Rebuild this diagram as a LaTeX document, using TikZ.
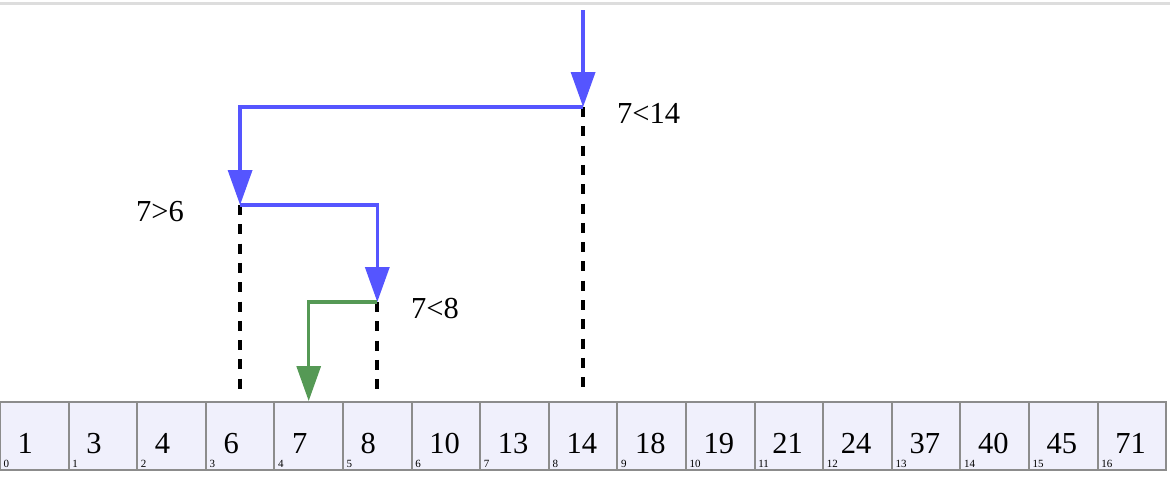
\documentclass[tikz,border=0pt]{standalone}
\usepackage{fontspec}
\setmainfont{Liberation Serif}
\usetikzlibrary{arrows.meta,calc}
\definecolor{stepblue}{RGB}{85,85,255}
\definecolor{stepgreen}{RGB}{85,153,85}
\definecolor{cellfill}{RGB}{240,240,252}
\definecolor{cellline}{RGB}{140,140,140}
\definecolor{rulegray}{RGB}{221,221,221}
\tikzset{
  cell/.style={draw=cellline, fill=cellfill, line width=2pt, minimum width=68.6pt, minimum height=68pt, inner sep=0pt},
  val/.style={anchor=base west, inner sep=0pt, font=\fontsize{30.5}{33}\selectfont},
  idx/.style={anchor=base west, inner sep=0pt, font=\fontsize{11}{13}\selectfont},
  cmp/.style={anchor=base west, inner sep=0pt, font=\fontsize{30.5}{33}\selectfont},
  bluestep/.style={draw=stepblue, line width=3.5pt, -{Triangle[length=35pt,width=24pt]}},
  greenstep/.style={draw=stepgreen, line width=3.2pt, -{Triangle[length=35pt,width=24pt]}},
  guide/.style={draw=black, line width=4pt, dash pattern=on 10pt off 9.3pt}
}
\begin{document}
\begin{tikzpicture}[x=1pt,y=-1pt]
\useasboundingbox (0,0) rectangle (1170,477);
\draw[rulegray, line width=3pt] (0,3.5) -- (1170,3.5);
% the sorted array
\foreach \v [count=\i from 0] in {1,3,4,6,7,8,10,13,14,18,19,21,24,37,40,45,71}{
  \node[cell] (c\i) at ({68.6*\i+34.3},436) {};
  \node[val] at ($(c\i.south west)+(18.5,-18)$) {\v};
  \node[idx] at ($(c\i.south west)+(4.5,-4)$) {\i};
}
% turning points of the search
\coordinate (start) at (c8.north |- 0,10);
\coordinate (p14) at (c8.north |- 0,107);
\coordinate (p6) at (c3.north |- 0,205);
\coordinate (p8) at (c5.north |- 0,302);
\draw[guide] (p14) -- ([yshift=10pt]c8.north);
\draw[guide] (p6) -- ([yshift=10pt]c3.north);
\draw[guide] (p8) -- ([yshift=10pt]c5.north);
\draw[bluestep] (start) -- (p14);
\draw[bluestep] (p14) -- (p14 -| p6) -- (p6);
\draw[bluestep] (p6) -- (p6 -| p8) -- (p8);
\draw[greenstep] (p8) -- (p8 -| c4.north) -- (c4.north);
\node[cmp] (t14) at (617,123) {7<14};
\node[cmp] (t6) at (136,221) {7>6};
\node[cmp] (t8) at (411,318) {7<8};
\end{tikzpicture}
\end{document}
